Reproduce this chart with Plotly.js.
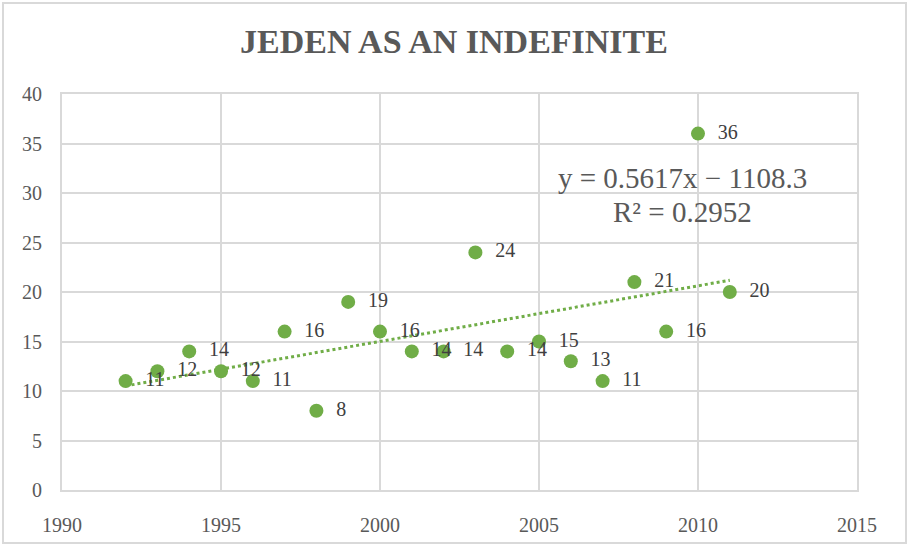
<!DOCTYPE html>
<html><head><meta charset="utf-8">
<script src="https://cdn.plot.ly/plotly-3.0.1.min.js"></script>
<style>
html,body{margin:0;padding:0;background:#fff;}
#wrap{position:relative;width:908px;height:545px;}
#chart{width:908px;height:545px;}
#frame{position:absolute;left:2px;top:2px;width:901px;height:538px;border:2px solid #d9d9d9;pointer-events:none;}
</style></head>
<body>
<div id="wrap"><div id="chart"></div><div id="frame"></div></div>
<script>
const years = [1992,1993,1994,1995,1996,1997,1998,1999,2000,2001,2002,2003,2004,2005,2006,2007,2008,2009,2010,2011];
const counts = [11,12,14,12,11,16,8,19,16,14,14,24,14,15,13,11,21,16,36,20];
const titleText = "JEDEN AS AN INDEFINITE";
const xTicks = [1990,1995,2000,2005,2010,2015];
const yTicks = [0,5,10,15,20,25,30,35,40];

// least-squares trend from the data
const n = years.length;
const mx = years.reduce((a,b)=>a+b,0)/n;
const my = counts.reduce((a,b)=>a+b,0)/n;
let sxy=0, sxx=0, syy=0;
for(let i=0;i<n;i++){sxy+=(years[i]-mx)*(counts[i]-my);sxx+=(years[i]-mx)**2;syy+=(counts[i]-my)**2;}
const slope = sxy/sxx, intercept = my - slope*mx, r2 = (sxy*sxy)/(sxx*syy);
const tx = [Math.min(...years), Math.max(...years)];
const ty = tx.map(x=>slope*x+intercept);

const serif = "'Liberation Serif', 'Times New Roman', serif";
const green = "#70ad47";

const traces = [
  {x: tx, y: ty, mode:'lines', line:{color:green, width:3, dash:'dot'}, hoverinfo:'skip', showlegend:false},
  {x: years, y: counts, mode:'markers+text', text: counts.map(v=>'  '+v), textposition:'middle right',
   textfont:{family:serif, size:20, color:'#404040'}, cliponaxis:false,
   marker:{color:green, size:14}, showlegend:false}
];

const layout = {
  width:908, height:545,
  margin:{l:62, r:51, t:94, b:55},
  paper_bgcolor:'#fff', plot_bgcolor:'#fff',
  title:{text:'<b>'+titleText+'</b>', x:0.5, xanchor:'center', y:0.925, yanchor:'middle',
         font:{family:serif, size:34, color:'#595959'}},
  xaxis:{range:[1990,2015], tickvals:xTicks, ticktext:xTicks.map(String), showgrid:true, gridcolor:'#d9d9d9', gridwidth:2,
         zeroline:false, showline:true, linecolor:'#d9d9d9', linewidth:2, mirror:true, ticks:'',
         ticklabelstandoff:16, tickfont:{family:serif, size:20, color:'#595959'}},
  yaxis:{range:[0,40], tickvals:yTicks, ticktext:yTicks.map(String), showgrid:true, gridcolor:'#d9d9d9', gridwidth:2,
         zeroline:false, showline:true, linecolor:'#d9d9d9', linewidth:2, mirror:true, ticks:'',
         ticklabelstandoff:14, tickfont:{family:serif, size:20, color:'#595959'}},
  annotations:[
    {xref:'x', yref:'y', x:2009.5, y:31.5, text:'y = '+slope.toFixed(4)+'x − '+Math.abs(intercept).toFixed(1), showarrow:false,
     xanchor:'center', yanchor:'middle', font:{family:serif, size:29, color:'#595959'}},
    {xref:'x', yref:'y', x:2009.5, y:28.1, text:'R² = '+r2.toFixed(4), showarrow:false,
     xanchor:'center', yanchor:'middle', font:{family:serif, size:29, color:'#595959'}}
  ]
};
Plotly.newPlot('chart', traces, layout, {displayModeBar:false, staticPlot:true});
</script>
</body></html>
